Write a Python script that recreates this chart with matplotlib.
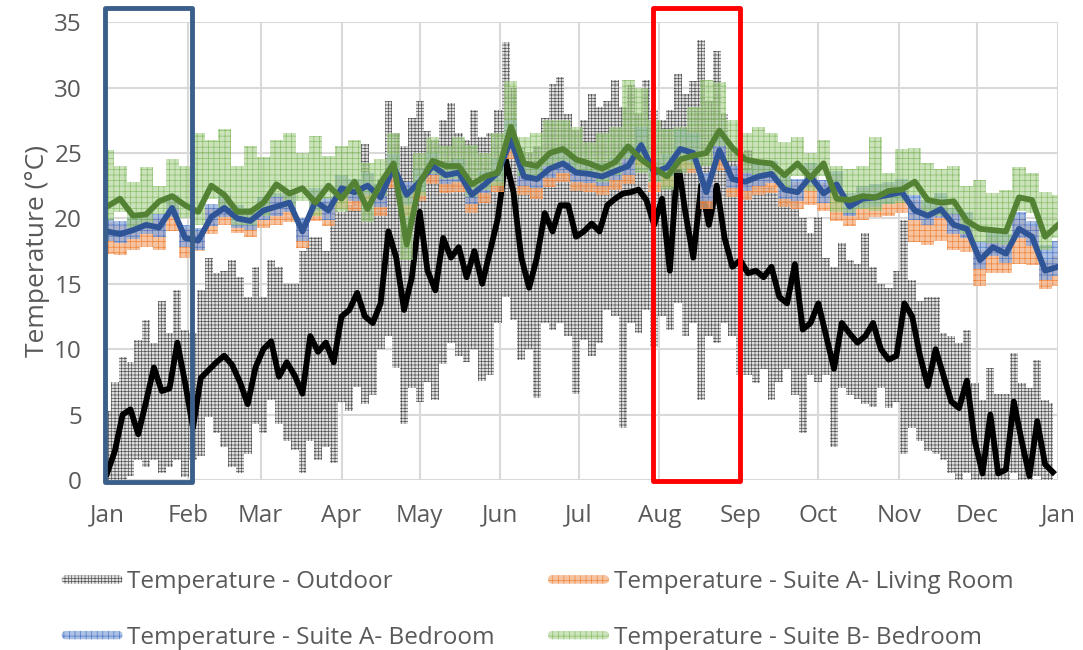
import numpy as np
import matplotlib
matplotlib.use('Agg')
import matplotlib.pyplot as plt
import matplotlib.patches as mpatches
from matplotlib.legend_handler import HandlerPatch

# Journées (jour de l'année) des séries
jours_ext = np.arange(0, 364, 3)   # extérieur : un point tous les 3 jours
jours_int = np.arange(0, 366, 5)   # intérieur : un point tous les 5 jours

# Extérieur : moyenne glissante, min et max
ext_moy = [0.5, 2.2, 5.0, 5.4, 3.5, 6.0, 8.6, 6.8, 7.0, 10.5,
           7.4, 4.0, 7.8, 8.4, 9.0, 9.5, 8.8, 7.5, 5.8, 8.6,
           10.0, 10.6, 7.9, 9.0, 8.0, 6.6, 11.0, 9.8, 10.5, 9.0,
           12.5, 13.0, 14.3, 12.5, 12.0, 13.5, 19.0, 17.0, 13.0, 15.5,
           20.5, 16.0, 14.5, 18.5, 17.0, 17.8, 15.5, 17.5, 15.0, 17.5,
           20.0, 24.5, 22.0, 17.0, 14.7, 17.0, 20.4, 19.0, 21.0, 21.0,
           18.6, 19.0, 19.6, 19.0, 21.0, 21.5, 21.9, 22.0, 22.2, 21.4,
           19.5, 21.5, 16.0, 24.5, 20.4, 17.0, 22.5, 19.5, 22.5, 18.5,
           16.3, 16.8, 15.8, 16.0, 15.5, 16.3, 14.0, 13.5, 16.5, 11.5,
           12.0, 13.5, 11.0, 8.5, 12.0, 11.2, 10.5, 11.0, 12.0, 10.0,
           9.2, 9.5, 13.5, 12.5, 9.5, 7.2, 10.0, 8.0, 6.0, 5.5,
           7.6, 3.0, 0.5, 5.0, 0.5, 0.8, 6.0, 3.0, 0.3, 4.5,
           1.2, 0.6]
ext_max = [5.3, 7.5, 9.4, 9.0, 10.7, 12.2, 10.5, 13.7, 11.2, 14.5,
           11.5, 11.2, 14.5, 17.0, 15.8, 16.0, 16.8, 15.5, 14.0, 16.3,
           14.0, 16.8, 16.3, 15.0, 15.0, 17.5, 18.6, 18.6, 17.5, 21.0,
           20.5, 21.0, 22.0, 25.7, 21.9, 23.0, 29.0, 26.5, 25.5, 27.7,
           29.0, 26.7, 26.0, 27.5, 28.8, 26.5, 26.0, 28.3, 26.2, 26.5,
           28.3, 33.5, 30.0, 25.4, 25.0, 25.5, 27.7, 30.3, 30.8, 28.0,
           26.7, 27.5, 29.5, 28.5, 29.0, 30.6, 28.5, 30.2, 28.0, 30.6,
           28.3, 27.5, 28.3, 31.0, 29.5, 30.5, 33.6, 29.0, 32.8, 28.0,
           25.4, 25.0, 25.2, 24.5, 24.0, 22.4, 21.9, 22.0, 21.5, 20.0,
           18.9, 20.1, 17.0, 16.3, 18.1, 16.8, 16.5, 18.9, 16.3, 15.0,
           14.7, 16.0, 19.9, 15.3, 13.7, 14.0, 14.0, 11.2, 11.0, 10.5,
           11.5, 7.4, 6.1, 8.6, 6.6, 6.6, 9.7, 7.4, 7.0, 9.2,
           6.1, 5.9]
ext_min = [0.0, 0.0, 0.0, 0.3, 1.5, 1.0, 1.5, 0.5, 1.0, 1.5,
           0.2, 1.5, 1.8, 4.8, 3.6, 2.5, 1.0, 0.5, 2.0, 4.3,
           3.6, 6.1, 4.3, 3.0, 2.3, 0.5, 3.0, 1.5, 2.5, 1.3,
           6.0, 5.3, 7.1, 5.8, 6.5, 10.0, 11.0, 8.6, 4.3, 7.0,
           6.0, 7.5, 6.1, 8.9, 10.5, 9.5, 9.0, 10.0, 7.6, 8.0,
           12.0, 14.0, 12.2, 9.2, 10.0, 6.3, 12.0, 11.5, 12.0, 11.0,
           6.6, 10.7, 9.5, 10.5, 13.0, 12.5, 4.0, 12.0, 11.2, 13.0,
           10.2, 12.5, 11.5, 13.5, 11.0, 12.0, 6.1, 11.0, 10.5, 12.0,
           11.0, 8.0, 8.0, 7.4, 8.5, 6.1, 7.5, 8.5, 6.5, 3.6,
           8.0, 7.5, 8.0, 2.5, 7.0, 6.5, 6.2, 5.8, 5.6, 7.0,
           5.5, 6.0, 2.0, 4.0, 3.0, 2.2, 2.0, 1.5, 0.5, 0.0,
           0.5, 0.0, 0.0, 0.0, 0.0, 0.0, 0.5, 0.0, 0.0, 0.3,
           0.0, 0.0]

# Suite A - chambre (moyenne glissante)
chA_moy = [19.0, 18.8, 19.1, 19.5, 19.3, 20.8, 18.5, 18.3, 20.1, 20.8,
           20.0, 19.8, 20.6, 20.9, 21.2, 19.0, 21.3, 20.6, 22.3, 22.0,
           22.5, 21.6, 23.9, 21.8, 22.8, 24.0, 23.3, 23.5, 21.8, 22.6,
           23.5, 26.0, 23.2, 23.0, 23.8, 24.2, 23.5, 23.4, 23.2, 23.6,
           24.0, 25.6, 23.5, 23.9, 25.3, 25.0, 22.0, 25.2, 23.0, 22.8,
           23.2, 23.4, 22.2, 22.0, 23.2, 21.9, 22.6, 20.9, 21.5, 21.6,
           21.8, 22.0, 20.6, 20.2, 20.7, 19.5, 19.2, 16.8, 17.8, 17.3,
           19.2, 18.6, 16.0, 16.3]
# Suite B - chambre (moyenne glissante)
chB_moy = [20.9, 21.5, 20.2, 20.3, 21.3, 21.7, 21.0, 20.5, 22.5, 21.8,
           20.5, 20.5, 21.2, 22.6, 21.9, 22.3, 21.2, 22.5, 21.5, 22.8,
           20.7, 22.7, 24.2, 18.0, 22.7, 24.4, 24.0, 24.0, 22.6, 23.2,
           23.5, 27.0, 24.2, 24.0, 25.0, 25.3, 24.5, 24.2, 23.8, 24.3,
           25.5, 24.5, 23.8, 23.2, 24.5, 24.8, 25.0, 26.7, 25.4, 24.5,
           24.3, 24.2, 23.3, 24.2, 23.1, 24.2, 21.5, 21.4, 21.7, 21.6,
           22.1, 22.2, 22.8, 21.4, 21.2, 21.3, 19.8, 19.2, 19.1, 19.0,
           21.6, 21.4, 18.6, 19.5]

# Enveloppes horaires (min / max) des pièces
sejA_min = [17.3, 17.2, 17.6, 17.8, 17.6, 19.0, 17.0, 17.5, 18.8, 19.5,
            18.9, 18.6, 19.3, 19.5, 19.7, 17.7, 19.8, 19.4, 20.7, 20.6,
            21.0, 20.2, 22.3, 20.2, 21.3, 22.6, 21.9, 22.0, 20.4, 21.2,
            22.0, 24.5, 21.8, 21.5, 22.4, 22.8, 22.1, 22.0, 21.8, 22.2,
            22.6, 24.0, 22.0, 22.4, 23.8, 23.5, 20.7, 23.7, 21.6, 21.4,
            21.8, 21.9, 20.9, 20.7, 21.0, 20.6, 19.8, 19.4, 19.9, 20.1,
            20.2, 20.4, 18.2, 18.0, 18.3, 17.6, 17.4, 14.8, 15.8, 15.8,
            16.5, 16.4, 14.6, 14.8]
sejA_max = [19.7, 19.5, 19.8, 20.2, 20.0, 21.5, 19.2, 19.0, 20.8, 21.5,
            20.7, 20.5, 21.3, 21.6, 21.9, 19.7, 22.0, 21.3, 23.0, 22.7,
            23.2, 22.3, 24.8, 22.6, 23.6, 24.8, 24.1, 24.3, 22.6, 23.4,
            24.3, 26.9, 24.0, 23.8, 24.6, 25.0, 24.3, 24.2, 24.0, 24.4,
            24.8, 26.4, 24.3, 24.7, 26.1, 25.8, 22.8, 26.0, 23.8, 23.6,
            24.0, 24.2, 23.0, 22.8, 24.0, 22.7, 23.4, 21.7, 22.3, 22.4,
            22.6, 22.8, 21.4, 21.0, 21.5, 20.3, 20.0, 17.6, 18.6, 18.1,
            20.0, 19.4, 16.8, 17.1]
chA_min = [18.3, 18.1, 18.4, 18.8, 18.6, 20.1, 17.8, 17.6, 19.4, 20.1,
           19.3, 19.1, 19.9, 20.2, 20.5, 18.3, 20.6, 19.9, 21.6, 21.3,
           21.8, 20.9, 23.2, 21.0, 22.0, 23.3, 22.6, 22.8, 21.1, 21.9,
           22.8, 25.3, 22.5, 22.3, 23.1, 23.5, 22.8, 22.7, 22.5, 22.9,
           23.3, 24.9, 22.8, 23.2, 24.6, 24.3, 21.3, 24.5, 22.3, 22.1,
           22.5, 22.7, 21.5, 21.3, 22.5, 21.2, 21.9, 20.2, 20.8, 20.9,
           21.1, 21.3, 19.9, 19.5, 20.0, 18.8, 18.5, 16.1, 17.1, 16.6,
           18.5, 17.9, 15.3, 15.6]
chA_max = [20.0, 19.8, 20.1, 20.5, 20.3, 21.8, 19.5, 19.3, 21.1, 21.8,
           21.0, 20.8, 21.6, 21.9, 22.2, 20.0, 22.3, 21.6, 23.3, 23.0,
           23.5, 22.6, 24.9, 22.8, 23.8, 25.0, 24.3, 24.5, 22.8, 23.6,
           24.5, 27.5, 24.2, 24.0, 24.8, 25.2, 24.5, 24.4, 24.2, 24.6,
           25.5, 27.0, 24.5, 24.9, 26.8, 26.5, 23.5, 26.5, 24.0, 23.8,
           24.2, 24.4, 23.2, 23.0, 24.2, 22.9, 23.6, 21.9, 22.5, 22.6,
           22.8, 23.0, 21.8, 21.4, 21.9, 20.8, 20.5, 18.3, 19.0, 18.8,
           20.5, 19.8, 18.0, 18.3]
chB_min = [19.9, 20.5, 19.2, 19.3, 20.3, 20.7, 20.0, 19.5, 21.5, 20.8,
           19.5, 19.5, 20.2, 21.6, 20.9, 21.3, 20.2, 21.5, 20.5, 21.8,
           19.7, 21.7, 23.2, 16.8, 21.7, 23.4, 23.0, 23.0, 21.6, 22.2,
           22.5, 25.8, 23.2, 23.0, 24.0, 24.3, 23.5, 23.2, 22.8, 23.3,
           24.5, 23.5, 22.8, 22.2, 23.5, 23.8, 24.0, 25.5, 24.4, 23.5,
           23.3, 23.2, 22.3, 23.2, 22.1, 23.2, 20.5, 20.4, 20.7, 20.6,
           21.1, 21.2, 21.8, 20.4, 20.2, 20.3, 18.8, 18.2, 18.1, 18.0,
           20.6, 20.4, 17.6, 18.5]
chB_max = [25.2, 24.0, 22.8, 23.9, 22.5, 24.5, 24.0, 26.5, 26.0, 26.8,
           24.0, 25.5, 24.7, 26.0, 26.5, 25.0, 26.3, 24.8, 25.5, 26.0,
           24.2, 24.5, 26.5, 22.3, 25.0, 26.2, 25.5, 26.2, 25.6, 25.0,
           26.5, 30.5, 26.2, 26.5, 27.5, 27.5, 27.0, 25.8, 26.5, 27.0,
           30.6, 30.0, 27.5, 26.8, 27.0, 28.5, 30.6, 30.4, 27.5, 26.5,
           27.0, 26.5, 25.8, 26.2, 25.0, 26.0, 24.0, 23.8, 24.0, 26.2,
           23.5, 25.3, 25.4, 24.2, 23.8, 24.0, 22.5, 22.9, 21.9, 22.2,
           23.9, 23.5, 22.0, 21.8]

mois = ['Jan', 'Feb', 'Mar', 'Apr', 'May', 'Jun', 'Jul', 'Aug', 'Sep', 'Oct', 'Nov', 'Dec', 'Jan']
debut_mois = [0, 31, 59, 90, 120, 151, 181, 212, 243, 273, 304, 334, 365]

noms = ['Temperature - Outdoor', 'Temperature - Suite A- Living Room',
        'Temperature - Suite A- Bedroom', 'Temperature - Suite B- Bedroom']

plt.rcParams['font.family'] = ['Open Sans', 'DejaVu Sans']
plt.rcParams['hatch.linewidth'] = 0.5
gris = '#595959'

fig = plt.figure(figsize=(10.83, 6.5), dpi=100)
ax = fig.add_axes([0.0988, 0.2615, 0.8782, 0.7045])

# Enveloppes (style "motif quadrillé" d'Excel)
sty_ext = dict(facecolor='#e0e0e0', edgecolor='#555555', hatch='+++++', linewidth=0)
sty_sej = dict(facecolor=(0.96, 0.69, 0.51, 0.75), edgecolor=(0.93, 0.49, 0.19, 0.9), hatch='+++', linewidth=0)
sty_chA = dict(facecolor=(0.56, 0.67, 0.86, 0.75), edgecolor=(0.27, 0.45, 0.77, 0.9), hatch='+++', linewidth=0)
sty_chB = dict(facecolor=(0.66, 0.82, 0.56, 0.6), edgecolor=(0.44, 0.68, 0.28, 0.7), hatch='+++', linewidth=0)

ax.fill_between(jours_ext, ext_min, ext_max, step='mid', zorder=2, **sty_ext)
ax.plot(jours_ext, ext_moy, color='black', lw=4.2, zorder=3, solid_joinstyle='round')
ax.fill_between(jours_int, sejA_min, sejA_max, step='mid', zorder=4, **sty_sej)
ax.fill_between(jours_int, chA_min, chA_max, step='mid', zorder=5, **sty_chA)
ax.fill_between(jours_int, chB_min, chB_max, step='mid', zorder=6, **sty_chB)
ax.plot(jours_int, chA_moy, color='#2F5597', lw=4.2, zorder=7, solid_joinstyle='round')
ax.plot(jours_int, chB_moy, color='#548235', lw=4.2, zorder=8, solid_joinstyle='round')

# Périodes encadrées : janvier et août
ax.add_patch(mpatches.Rectangle((-0.8, -0.15), 33.4, 36.25, fill=False, edgecolor='#3A5F8B',
                                lw=3.5, clip_on=False, zorder=10, joinstyle='round'))
ax.add_patch(mpatches.Rectangle((209.6, -0.05), 33.4, 36.15, fill=False, edgecolor='#FF0000',
                                lw=3.5, clip_on=False, zorder=10, joinstyle='round'))

ax.set_xlim(0, 365)
ax.set_ylim(0, 35)
ax.set_xticks(debut_mois)
ax.set_xticklabels(mois)
ax.set_yticks(range(0, 36, 5))
ax.grid(True, color='#d9d9d9', lw=1.5, zorder=0)
ax.set_axisbelow(True)
for s in ax.spines.values():
    s.set_visible(False)
ax.tick_params(length=0, labelsize=17.5, colors=gris)
ax.tick_params(axis='x', pad=17)
ax.tick_params(axis='y', pad=18)
ax.set_ylabel('Temperature (°C)', fontsize=19, color=gris, labelpad=3)


# Symbole de légende : barre fine arrondie, comme un trait épais hachuré
def barre(legend, orig_handle, xdescent, ydescent, width, height, fontsize):
    return mpatches.FancyBboxPatch((-xdescent, -ydescent + height / 2 - 3), width, 6,
                                   boxstyle='round,pad=0,rounding_size=3')


poignees = [mpatches.Patch(**sty_ext), mpatches.Patch(**sty_sej),
            mpatches.Patch(**sty_chA), mpatches.Patch(**sty_chB)]
opts = dict(loc='upper left', frameon=False, fontsize=17.5, handlelength=2.5,
            handleheight=0.7, handletextpad=0.2, labelspacing=1.3,
            borderpad=0, borderaxespad=0,
            handler_map={mpatches.Patch: HandlerPatch(patch_func=barre)})
leg1 = fig.legend([poignees[0], poignees[2]], [noms[0], noms[2]],
                  bbox_to_anchor=(0.057, 0.123), **opts)
leg2 = fig.legend([poignees[1], poignees[3]], [noms[1], noms[3]],
                  bbox_to_anchor=(0.506, 0.123), **opts)
for leg in (leg1, leg2):
    for t in leg.get_texts():
        t.set_color(gris)

fig.savefig('out.png', dpi=100)
